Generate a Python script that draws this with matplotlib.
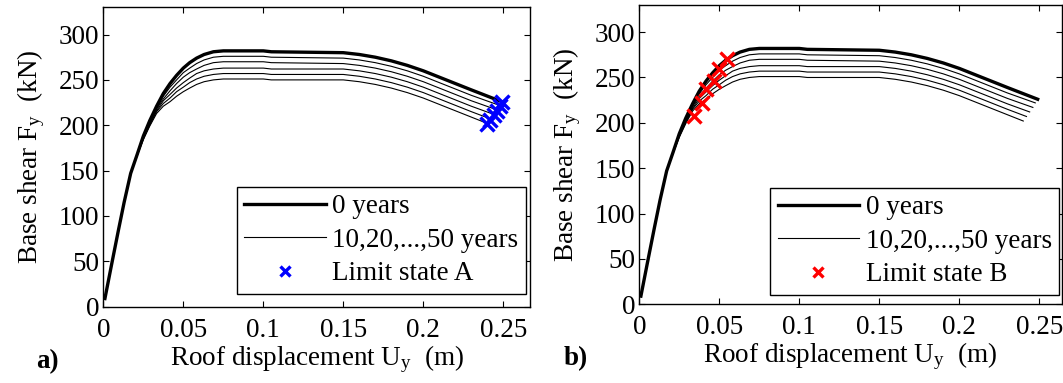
import matplotlib
matplotlib.use('Agg')
import matplotlib.pyplot as plt

plt.rcParams['font.family'] = 'serif'
plt.rcParams['font.serif'] = ['Liberation Serif', 'DejaVu Serif']
plt.rcParams['mathtext.fontset'] = 'custom'
plt.rcParams['mathtext.rm'] = 'Liberation Serif'
plt.rcParams['mathtext.it'] = 'Liberation Serif:italic'

# pushover curves (roof displacement m, base shear kN)
x_common = [0.001, 0.005, 0.0094, 0.013, 0.0171, 0.021, 0.025, 0.029, 0.0333,
            0.0375, 0.0417, 0.0458, 0.05, 0.054, 0.0583, 0.063, 0.0688, 0.075,
            0.10, 0.105, 0.15, 0.16, 0.17, 0.18, 0.19, 0.20, 0.21, 0.22, 0.23]
y_0 = [9, 45, 84, 115, 147, 167, 188, 205, 221, 235, 246, 255, 263, 269, 274,
       278, 281, 282, 282, 281, 280, 278, 275, 271, 266, 260, 253, 246, 239]
y_10 = [9, 45, 84, 115, 147, 167, 187, 204, 219, 232, 242, 250, 258, 263, 268,
        272, 275, 276, 276, 275, 274, 272, 269, 265, 260, 254, 247, 240, 233]
y_20 = [9, 45, 84, 115, 147, 167, 186, 203, 218, 229, 238, 246, 253, 258, 262,
        266, 269, 270, 270, 269, 268, 266, 263, 259, 254, 248, 241, 234, 227]
y_30 = [9, 45, 84, 115, 147, 166, 186, 201, 216, 227, 234, 241, 247, 252, 257,
        260, 262, 263, 263, 262, 262, 260, 257, 253, 248, 242, 235, 228, 221]
y_40 = [9, 45, 84, 115, 147, 166, 185, 200, 215, 224, 230, 237, 242, 247, 251,
        254, 256, 257, 257, 256, 256, 254, 251, 247, 242, 236, 229, 222, 215]
y_50 = [9, 45, 84, 115, 147, 166, 184, 199, 213, 221, 226, 232, 237, 241, 245,
        248, 250, 251, 251, 250, 250, 248, 245, 241, 236, 230, 223, 216, 209]
end_x = [0.249, 0.2475, 0.246, 0.244, 0.242, 0.240]
end_y = [226, 222, 217, 212, 207, 202]

# limit states
limA_x = [0.2495, 0.248, 0.246, 0.244, 0.242, 0.240]
limA_y = [226, 221, 216, 211, 206, 201]
limB_x = [0.055, 0.050, 0.0465, 0.042, 0.039, 0.034]
limB_y = [270, 259, 246, 237, 222, 208]

curves = [y_0, y_10, y_20, y_30, y_40, y_50]
FS = 19.5

fig = plt.figure(figsize=(10.63, 3.83), dpi=100)
ax1 = fig.add_axes([0.0972, 0.1992, 0.4014, 0.7817])
ax2 = fig.add_axes([0.6014, 0.2055, 0.3972, 0.7817])


def draw_panel(ax, xmax, lim_x, lim_y, col, lim_label, leg_anchor):
    # thin curves first, thick 0 years on top
    for i in range(len(curves) - 1, -1, -1):
        xs = x_common + [end_x[i]]
        ys = curves[i] + [end_y[i]]
        if i == 0:
            h0, = ax.plot(xs, ys, 'k-', lw=2.4, zorder=3)
        else:
            h1, = ax.plot(xs, ys, 'k-', lw=0.8, zorder=2)
    hm, = ax.plot(lim_x, lim_y, 'x', color=col, ms=10, mew=2.4, ls='none', zorder=4)
    ax.set_xlim(0, xmax)
    ax.set_ylim(0, 330)
    ax.set_xticks([0, 0.05, 0.1, 0.15, 0.2, 0.25])
    ax.set_xticklabels(['0', '0.05', '0.1', '0.15', '0.2', '0.25'])
    ax.set_yticks([0, 50, 100, 150, 200, 250, 300])
    ax.tick_params(direction='in', top=True, right=True, length=4,
                   width=0.8, labelsize=FS)
    ax.tick_params(axis='x', pad=8)
    ax.tick_params(axis='y', pad=3)
    for s in ax.spines.values():
        s.set_linewidth(1.0)
    ax.set_xlabel(r'Roof displacement U$_{\mathrm{y}}$  (m)', fontsize=FS, labelpad=0)
    ax.set_ylabel(r'Base shear F$_{\mathrm{y}}$  (kN)', fontsize=FS, labelpad=8)
    leg = ax.legend([h0, h1, hm], ['0 years', '10,20,...,50 years', lim_label],
                    loc='lower right', bbox_to_anchor=leg_anchor,
                    fontsize=FS, handlelength=3.0, handletextpad=0.25,
                    labelspacing=0.32, borderpad=0.28, markerscale=0.75,
                    fancybox=False, framealpha=1, edgecolor='black',
                    borderaxespad=0)
    leg.get_frame().set_linewidth(1.0)


draw_panel(ax1, 0.2667, limA_x, limA_y, 'blue', 'Limit state A', (0.9906, 0.0424))
draw_panel(ax2, 0.2639, limB_x, limB_y, 'red', 'Limit state B', (0.995, 0.031))

fig.text(0.0339, 0.039, 'a)', fontsize=FS, fontweight='bold', va='baseline')
fig.text(0.5305, 0.047, 'b)', fontsize=FS, fontweight='bold', va='baseline')

fig.savefig('out.png', dpi=100)
